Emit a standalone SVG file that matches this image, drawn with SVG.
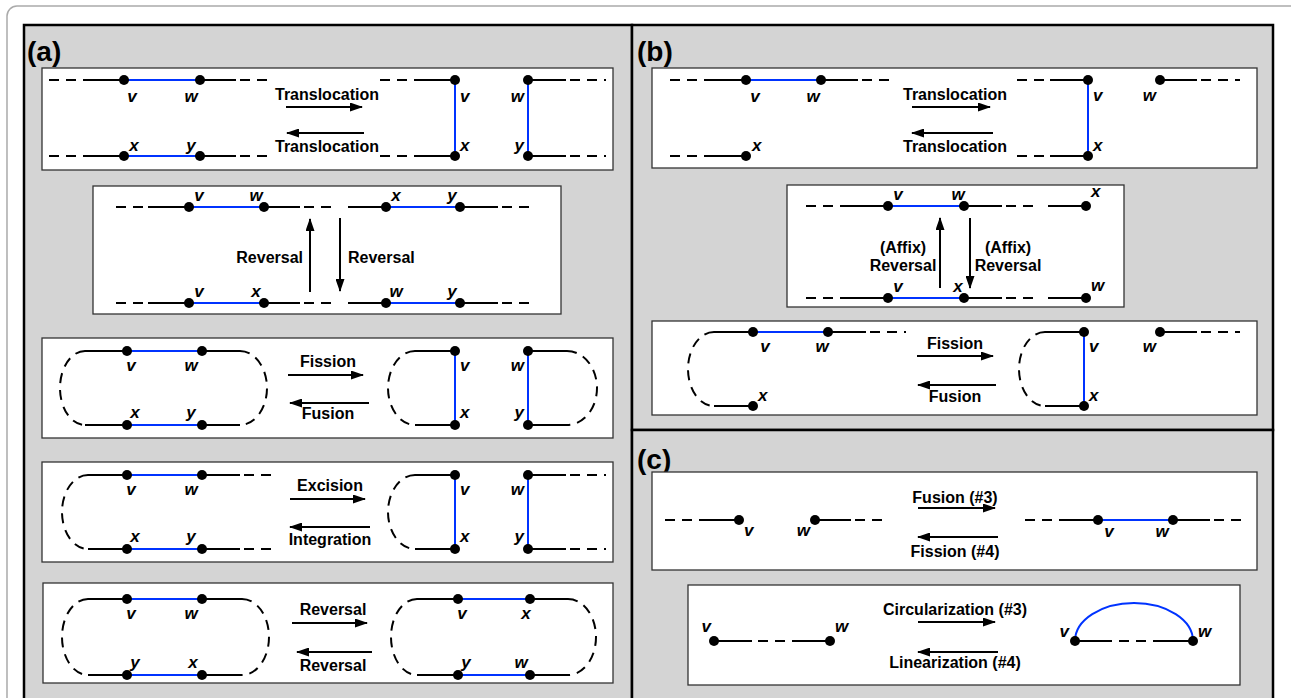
<svg xmlns="http://www.w3.org/2000/svg" width="1291" height="698" viewBox="0 0 1291 698">
<defs>
<marker id="ah" viewBox="0 0 13 9" markerWidth="13" markerHeight="9" markerUnits="userSpaceOnUse" refX="12" refY="4.5" orient="auto"><path d="M0,0 L13,4.5 L0,9 z" fill="#000"/></marker>
<style>
.panel{fill:#d4d4d4;stroke:#000;stroke-width:2.5}
.box{fill:#fff;stroke:#333;stroke-width:1.3}
.s{stroke:#000;stroke-width:2;fill:none}
.d{stroke:#000;stroke-width:2;fill:none;stroke-dasharray:10 7}
.b{stroke:#0033ff;stroke-width:2;fill:none}
.ar{stroke:#000;stroke-width:2;fill:none;marker-end:url(#ah)}
.dot{fill:#000}
.l{font-family:'Liberation Sans',Arial,sans-serif;font-weight:bold;font-style:italic;font-size:17px;text-anchor:middle}
.ls{font-family:'Liberation Sans',Arial,sans-serif;font-weight:bold;font-style:italic;font-size:17px;text-anchor:start}
.le{font-family:'Liberation Sans',Arial,sans-serif;font-weight:bold;font-style:italic;font-size:17px;text-anchor:end}
.op{font-family:'Liberation Sans',Arial,sans-serif;font-weight:bold;font-size:16px;text-anchor:middle}
.ope{font-family:'Liberation Sans',Arial,sans-serif;font-weight:bold;font-size:16px;text-anchor:end}
.ops{font-family:'Liberation Sans',Arial,sans-serif;font-weight:bold;font-size:16px;text-anchor:start}
.pl{font-family:'Liberation Sans',Arial,sans-serif;font-weight:bold;font-size:28px}
</style>
</defs>
<rect x="7" y="6" width="1300" height="720" rx="10" fill="#fff" stroke="#aaa" stroke-width="1.5"/>

<g id="panel-a">
<rect class="panel" x="24" y="25" width="608" height="690"/>
<text class="pl" x="27" y="61">(a)</text>
</g>
<g id="panel-b">
<rect class="panel" x="632" y="25" width="641" height="405"/>
<text class="pl" x="637" y="61">(b)</text>
</g>
<g id="panel-c">
<rect class="panel" x="632" y="430" width="641" height="285"/>
<text class="pl" x="637" y="469">(c)</text>
</g>

<!-- (a) box 1 -->
<g id="a1">
<rect class="box" x="42" y="68" width="571" height="102"/>
<line class="d" x1="49" y1="80" x2="84" y2="80"/><line class="s" x1="84" y1="80" x2="124" y2="80"/><line class="b" x1="124" y1="80" x2="200" y2="80"/><line class="s" x1="200" y1="80" x2="236" y2="80"/><line class="d" x1="240" y1="80" x2="272" y2="80"/>
<line class="d" x1="49" y1="156" x2="84" y2="156"/><line class="s" x1="84" y1="156" x2="124" y2="156"/><line class="b" x1="124" y1="156" x2="200" y2="156"/><line class="s" x1="200" y1="156" x2="236" y2="156"/><line class="d" x1="240" y1="156" x2="272" y2="156"/>
<circle class="dot" cx="124" cy="80" r="5"/><circle class="dot" cx="200" cy="80" r="5"/><circle class="dot" cx="124" cy="156" r="5"/><circle class="dot" cx="200" cy="156" r="5"/>
<text class="l" x="132" y="102">v</text><text class="l" x="191" y="102">w</text><text class="l" x="134" y="151">x</text><text class="l" x="191" y="151">y</text>
<line class="d" x1="380" y1="80" x2="416" y2="80"/><line class="s" x1="416" y1="80" x2="455" y2="80"/><line class="b" x1="455" y1="80" x2="455" y2="156"/>
<line class="d" x1="380" y1="156" x2="416" y2="156"/><line class="s" x1="416" y1="156" x2="455" y2="156"/>
<circle class="dot" cx="455" cy="80" r="5"/><circle class="dot" cx="455" cy="156" r="5"/>
<text class="ls" x="460" y="102">v</text><text class="ls" x="460" y="151">x</text>
<line class="s" x1="528" y1="80" x2="566" y2="80"/><line class="d" x1="570" y1="80" x2="606" y2="80"/><line class="b" x1="528" y1="80" x2="528" y2="156"/>
<line class="s" x1="528" y1="156" x2="566" y2="156"/><line class="d" x1="570" y1="156" x2="606" y2="156"/>
<circle class="dot" cx="528" cy="80" r="5"/><circle class="dot" cx="528" cy="156" r="5"/>
<text class="le" x="524" y="102">w</text><text class="le" x="524" y="151">y</text>
<text class="op" x="327" y="100">Translocation</text><text class="op" x="327" y="152">Translocation</text>
</g>

<!-- (a) box 2 -->
<g id="a2">
<rect class="box" x="93" y="186" width="468" height="128"/>
<line class="d" x1="116" y1="207" x2="148" y2="207"/><line class="s" x1="148" y1="207" x2="189" y2="207"/><line class="b" x1="189" y1="207" x2="264" y2="207"/><line class="s" x1="264" y1="207" x2="300" y2="207"/><line class="d" x1="304" y1="207" x2="338" y2="207"/>
<line class="s" x1="348" y1="207" x2="386" y2="207"/><line class="b" x1="386" y1="207" x2="460" y2="207"/><line class="s" x1="460" y1="207" x2="498" y2="207"/><line class="d" x1="502" y1="207" x2="535" y2="207"/>
<circle class="dot" cx="189" cy="207" r="5"/><circle class="dot" cx="264" cy="207" r="5"/><circle class="dot" cx="386" cy="207" r="5"/><circle class="dot" cx="460" cy="207" r="5"/>
<text class="l" x="199" y="201">v</text><text class="l" x="256" y="201">w</text><text class="l" x="396" y="201">x</text><text class="l" x="452" y="201">y</text>
<line class="d" x1="116" y1="303" x2="148" y2="303"/><line class="s" x1="148" y1="303" x2="189" y2="303"/><line class="b" x1="189" y1="303" x2="264" y2="303"/><line class="s" x1="264" y1="303" x2="300" y2="303"/><line class="d" x1="304" y1="303" x2="338" y2="303"/>
<line class="s" x1="348" y1="303" x2="386" y2="303"/><line class="b" x1="386" y1="303" x2="460" y2="303"/><line class="s" x1="460" y1="303" x2="498" y2="303"/><line class="d" x1="502" y1="303" x2="535" y2="303"/>
<circle class="dot" cx="189" cy="303" r="5"/><circle class="dot" cx="264" cy="303" r="5"/><circle class="dot" cx="386" cy="303" r="5"/><circle class="dot" cx="460" cy="303" r="5"/>
<text class="l" x="199" y="297">v</text><text class="l" x="256" y="297">x</text><text class="l" x="396" y="297">w</text><text class="l" x="452" y="297">y</text>
<text class="ope" x="303" y="263">Reversal</text><text class="ops" x="348" y="263">Reversal</text>
</g>

<!-- (a) box 3 -->
<g id="a3">
<rect class="box" x="42" y="338" width="571" height="100"/>
<path class="d" d="M85,351 A25,37 0 0 0 85,425"/><path class="d" d="M240,351 A27,37 0 0 1 240,425"/>
<line class="s" x1="85" y1="351" x2="127" y2="351"/><line class="b" x1="127" y1="351" x2="202" y2="351"/><line class="s" x1="202" y1="351" x2="240" y2="351"/>
<line class="s" x1="85" y1="425" x2="127" y2="425"/><line class="b" x1="127" y1="425" x2="202" y2="425"/><line class="s" x1="202" y1="425" x2="240" y2="425"/>
<circle class="dot" cx="127" cy="351" r="5"/><circle class="dot" cx="202" cy="351" r="5"/><circle class="dot" cx="127" cy="425" r="5"/><circle class="dot" cx="202" cy="425" r="5"/>
<text class="l" x="131" y="371">v</text><text class="l" x="191" y="371">w</text><text class="l" x="135" y="418">x</text><text class="l" x="191" y="418">y</text>
<path class="d" d="M415,351 A27,37 0 0 0 415,425"/>
<line class="s" x1="415" y1="351" x2="455" y2="351"/><line class="s" x1="415" y1="425" x2="455" y2="425"/><line class="b" x1="455" y1="351" x2="455" y2="425"/>
<circle class="dot" cx="455" cy="351" r="5"/><circle class="dot" cx="455" cy="425" r="5"/>
<text class="ls" x="460" y="371">v</text><text class="ls" x="460" y="418">x</text>
<path class="d" d="M567,351 A30,37 0 0 1 567,425"/>
<line class="s" x1="528" y1="351" x2="567" y2="351"/><line class="s" x1="528" y1="425" x2="567" y2="425"/><line class="b" x1="528" y1="351" x2="528" y2="425"/>
<circle class="dot" cx="528" cy="351" r="5"/><circle class="dot" cx="528" cy="425" r="5"/>
<text class="le" x="524" y="371">w</text><text class="le" x="524" y="418">y</text>
<text class="op" x="328" y="367">Fission</text><text class="op" x="328" y="419">Fusion</text>
</g>

<!-- (a) box 4 -->
<g id="a4">
<rect class="box" x="42" y="462" width="571" height="100"/>
<path class="d" d="M88,475 A26,37 0 0 0 88,549"/>
<line class="s" x1="88" y1="475" x2="127" y2="475"/><line class="b" x1="127" y1="475" x2="202" y2="475"/><line class="s" x1="202" y1="475" x2="240" y2="475"/><line class="d" x1="244" y1="475" x2="278" y2="475"/>
<line class="s" x1="88" y1="549" x2="127" y2="549"/><line class="b" x1="127" y1="549" x2="202" y2="549"/><line class="s" x1="202" y1="549" x2="240" y2="549"/><line class="d" x1="244" y1="549" x2="278" y2="549"/>
<circle class="dot" cx="127" cy="475" r="5"/><circle class="dot" cx="202" cy="475" r="5"/><circle class="dot" cx="127" cy="549" r="5"/><circle class="dot" cx="202" cy="549" r="5"/>
<text class="l" x="131" y="495">v</text><text class="l" x="191" y="495">w</text><text class="l" x="135" y="542">x</text><text class="l" x="191" y="542">y</text>
<path class="d" d="M415,475 A27,37 0 0 0 415,549"/>
<line class="s" x1="415" y1="475" x2="455" y2="475"/><line class="s" x1="415" y1="549" x2="455" y2="549"/><line class="b" x1="455" y1="475" x2="455" y2="549"/>
<circle class="dot" cx="455" cy="475" r="5"/><circle class="dot" cx="455" cy="549" r="5"/>
<text class="ls" x="460" y="495">v</text><text class="ls" x="460" y="542">x</text>
<line class="s" x1="528" y1="475" x2="566" y2="475"/><line class="d" x1="570" y1="475" x2="606" y2="475"/>
<line class="s" x1="528" y1="549" x2="566" y2="549"/><line class="d" x1="570" y1="549" x2="606" y2="549"/><line class="b" x1="528" y1="475" x2="528" y2="549"/>
<circle class="dot" cx="528" cy="475" r="5"/><circle class="dot" cx="528" cy="549" r="5"/>
<text class="le" x="524" y="495">w</text><text class="le" x="524" y="542">y</text>
<text class="op" x="330" y="491">Excision</text><text class="op" x="330" y="545">Integration</text>
</g>

<!-- (a) box 5 -->
<g id="a5">
<rect class="box" x="43" y="583" width="570" height="100"/>
<path class="d" d="M88,599 A26,38 0 0 0 88,675"/><path class="d" d="M242,599 A27,38 0 0 1 242,675"/>
<line class="s" x1="88" y1="599" x2="127" y2="599"/><line class="b" x1="127" y1="599" x2="202" y2="599"/><line class="s" x1="202" y1="599" x2="242" y2="599"/>
<line class="s" x1="88" y1="675" x2="127" y2="675"/><line class="b" x1="127" y1="675" x2="202" y2="675"/><line class="s" x1="202" y1="675" x2="242" y2="675"/>
<circle class="dot" cx="127" cy="599" r="5"/><circle class="dot" cx="202" cy="599" r="5"/><circle class="dot" cx="127" cy="675" r="5"/><circle class="dot" cx="202" cy="675" r="5"/>
<text class="l" x="131" y="619">v</text><text class="l" x="191" y="619">w</text><text class="l" x="135" y="668">y</text><text class="l" x="193" y="668">x</text>
<path class="d" d="M417,599 A26,38 0 0 0 417,675"/><path class="d" d="M568,599 A28,38 0 0 1 568,675"/>
<line class="s" x1="417" y1="599" x2="458" y2="599"/><line class="b" x1="458" y1="599" x2="530" y2="599"/><line class="s" x1="530" y1="599" x2="568" y2="599"/>
<line class="s" x1="417" y1="675" x2="458" y2="675"/><line class="b" x1="458" y1="675" x2="530" y2="675"/><line class="s" x1="530" y1="675" x2="568" y2="675"/>
<circle class="dot" cx="458" cy="599" r="5"/><circle class="dot" cx="530" cy="599" r="5"/><circle class="dot" cx="458" cy="675" r="5"/><circle class="dot" cx="530" cy="675" r="5"/>
<text class="l" x="462" y="619">v</text><text class="l" x="526" y="619">x</text><text class="l" x="466" y="668">y</text><text class="l" x="521" y="668">w</text>
<text class="op" x="333" y="615">Reversal</text><text class="op" x="333" y="671">Reversal</text>
</g>

<!-- (b) box 1 -->
<g id="b1">
<rect class="box" x="652" y="68" width="605" height="100"/>
<line class="d" x1="670" y1="80" x2="706" y2="80"/><line class="s" x1="706" y1="80" x2="746" y2="80"/><line class="b" x1="746" y1="80" x2="821" y2="80"/><line class="s" x1="821" y1="80" x2="858" y2="80"/><line class="d" x1="862" y1="80" x2="895" y2="80"/>
<circle class="dot" cx="746" cy="80" r="5"/><circle class="dot" cx="821" cy="80" r="5"/>
<text class="l" x="755" y="102">v</text><text class="l" x="813" y="102">w</text>
<line class="d" x1="670" y1="156" x2="706" y2="156"/><line class="s" x1="706" y1="156" x2="746" y2="156"/>
<circle class="dot" cx="746" cy="156" r="5"/>
<text class="ls" x="752" y="151">x</text>
<line class="d" x1="1017" y1="80" x2="1050" y2="80"/><line class="s" x1="1050" y1="80" x2="1088" y2="80"/><line class="b" x1="1088" y1="80" x2="1088" y2="156"/>
<line class="d" x1="1017" y1="156" x2="1050" y2="156"/><line class="s" x1="1050" y1="156" x2="1088" y2="156"/>
<circle class="dot" cx="1088" cy="80" r="5"/><circle class="dot" cx="1088" cy="156" r="5"/>
<text class="ls" x="1093" y="101">v</text><text class="ls" x="1093" y="151">x</text>
<line class="s" x1="1160" y1="80" x2="1197" y2="80"/><line class="d" x1="1201" y1="80" x2="1240" y2="80"/>
<circle class="dot" cx="1160" cy="80" r="5"/>
<text class="le" x="1156" y="101">w</text>
<text class="op" x="955" y="100">Translocation</text><text class="op" x="955" y="152">Translocation</text>
</g>

<!-- (b) box 2 -->
<g id="b2">
<rect class="box" x="787" y="185" width="337" height="122"/>
<line class="d" x1="806" y1="206" x2="842" y2="206"/><line class="s" x1="842" y1="206" x2="888" y2="206"/><line class="b" x1="888" y1="206" x2="964" y2="206"/><line class="s" x1="964" y1="206" x2="1002" y2="206"/><line class="d" x1="1006" y1="206" x2="1040" y2="206"/><line class="s" x1="1048" y1="206" x2="1086" y2="206"/>
<circle class="dot" cx="888" cy="206" r="5"/><circle class="dot" cx="964" cy="206" r="5"/><circle class="dot" cx="1086" cy="206" r="5"/>
<text class="l" x="898" y="200">v</text><text class="l" x="958" y="200">w</text><text class="ls" x="1091" y="197">x</text>
<line class="d" x1="806" y1="298" x2="842" y2="298"/><line class="s" x1="842" y1="298" x2="888" y2="298"/><line class="b" x1="888" y1="298" x2="964" y2="298"/><line class="s" x1="964" y1="298" x2="1002" y2="298"/><line class="d" x1="1006" y1="298" x2="1040" y2="298"/><line class="s" x1="1048" y1="298" x2="1086" y2="298"/>
<circle class="dot" cx="888" cy="298" r="5"/><circle class="dot" cx="964" cy="298" r="5"/><circle class="dot" cx="1086" cy="298" r="5"/>
<text class="l" x="898" y="292">v</text><text class="l" x="958" y="292">x</text><text class="ls" x="1091" y="291">w</text>
<text class="op" x="903" y="253">(Affix)</text><text class="op" x="903" y="271">Reversal</text>
<text class="op" x="1008" y="253">(Affix)</text><text class="op" x="1008" y="271">Reversal</text>
</g>

<!-- (b) box 3 -->
<g id="b3">
<rect class="box" x="652" y="321" width="605" height="94"/>
<path class="d" d="M714,332 A26,37 0 0 0 714,406"/>
<line class="s" x1="714" y1="332" x2="753" y2="332"/><line class="b" x1="753" y1="332" x2="828" y2="332"/><line class="s" x1="828" y1="332" x2="866" y2="332"/><line class="d" x1="870" y1="332" x2="906" y2="332"/>
<line class="s" x1="714" y1="406" x2="753" y2="406"/>
<circle class="dot" cx="753" cy="332" r="5"/><circle class="dot" cx="828" cy="332" r="5"/><circle class="dot" cx="753" cy="406" r="5"/>
<text class="l" x="765" y="352">v</text><text class="l" x="822" y="352">w</text><text class="ls" x="758" y="401">x</text>
<path class="d" d="M1045,332 A26,37 0 0 0 1045,406"/>
<line class="s" x1="1045" y1="332" x2="1084" y2="332"/><line class="s" x1="1045" y1="406" x2="1084" y2="406"/><line class="b" x1="1084" y1="332" x2="1084" y2="406"/>
<circle class="dot" cx="1084" cy="332" r="5"/><circle class="dot" cx="1084" cy="406" r="5"/>
<text class="ls" x="1089" y="352">v</text><text class="ls" x="1089" y="401">x</text>
<line class="s" x1="1160" y1="332" x2="1197" y2="332"/><line class="d" x1="1201" y1="332" x2="1240" y2="332"/>
<circle class="dot" cx="1160" cy="332" r="5"/>
<text class="le" x="1156" y="352">w</text>
<text class="op" x="955" y="349">Fission</text><text class="op" x="955" y="402">Fusion</text>
</g>

<!-- (c) box 1 -->
<g id="c1">
<rect class="box" x="652" y="472" width="605" height="98"/>
<line class="d" x1="665" y1="520" x2="700" y2="520"/><line class="s" x1="700" y1="520" x2="739" y2="520"/>
<circle class="dot" cx="739" cy="520" r="5"/>
<text class="ls" x="744" y="536">v</text>
<line class="s" x1="815" y1="520" x2="851" y2="520"/><line class="d" x1="855" y1="520" x2="888" y2="520"/>
<circle class="dot" cx="815" cy="520" r="5"/>
<text class="le" x="810" y="536">w</text>
<line class="d" x1="1025" y1="520" x2="1060" y2="520"/><line class="s" x1="1060" y1="520" x2="1098" y2="520"/><line class="b" x1="1098" y1="520" x2="1173" y2="520"/><line class="s" x1="1173" y1="520" x2="1210" y2="520"/><line class="d" x1="1214" y1="520" x2="1248" y2="520"/>
<circle class="dot" cx="1098" cy="520" r="5"/><circle class="dot" cx="1173" cy="520" r="5"/>
<text class="l" x="1109" y="537">v</text><text class="l" x="1162" y="537">w</text>
<text class="op" x="955" y="503">Fusion (#3)</text><text class="op" x="955" y="557">Fission (#4)</text>
</g>

<!-- (c) box 2 -->
<g id="c2">
<rect class="box" x="688" y="585" width="552" height="100"/>
<line class="s" x1="714" y1="641" x2="752" y2="641"/><line class="d" x1="758" y1="641" x2="785" y2="641"/><line class="s" x1="792" y1="641" x2="830" y2="641"/>
<circle class="dot" cx="714" cy="641" r="5"/><circle class="dot" cx="830" cy="641" r="5"/>
<text class="le" x="711" y="632">v</text><text class="ls" x="835" y="632">w</text>
<path class="b" d="M1075,641 A59,38 0 0 1 1193,641"/>
<line class="s" x1="1075" y1="641" x2="1112" y2="641"/><line class="d" x1="1119" y1="641" x2="1146" y2="641"/><line class="s" x1="1153" y1="641" x2="1193" y2="641"/>
<circle class="dot" cx="1075" cy="641" r="5"/><circle class="dot" cx="1193" cy="641" r="5"/>
<text class="le" x="1069" y="637">v</text><text class="ls" x="1198" y="637">w</text>
<text class="op" x="955" y="615">Circularization (#3)</text><text class="op" x="955" y="668">Linearization (#4)</text>
</g>

<g id="connectors">
<line class="ar" x1="286" y1="107" x2="362" y2="107"/>
<line class="ar" x1="364" y1="133" x2="287" y2="133"/>
<line class="ar" x1="310" y1="292" x2="310" y2="219"/>
<line class="ar" x1="340" y1="218" x2="340" y2="291"/>
<line class="ar" x1="288" y1="375" x2="363" y2="375"/>
<line class="ar" x1="369" y1="403" x2="290" y2="403"/>
<line class="ar" x1="290" y1="499" x2="365" y2="499"/>
<line class="ar" x1="370" y1="527" x2="290" y2="527"/>
<line class="ar" x1="292" y1="623" x2="367" y2="623"/>
<line class="ar" x1="372" y1="652" x2="297" y2="652"/>
<line class="ar" x1="912" y1="107" x2="990" y2="107"/>
<line class="ar" x1="993" y1="133" x2="912" y2="133"/>
<line class="ar" x1="940" y1="288" x2="940" y2="218"/>
<line class="ar" x1="970" y1="218" x2="970" y2="288"/>
<line class="ar" x1="917" y1="356" x2="993" y2="356"/>
<line class="ar" x1="996" y1="385" x2="918" y2="385"/>
<line class="ar" x1="918" y1="508" x2="995" y2="508"/>
<line class="ar" x1="998" y1="537" x2="918" y2="537"/>
<line class="ar" x1="918" y1="622" x2="995" y2="622"/>
<line class="ar" x1="998" y1="652" x2="918" y2="652"/>
</g>
</svg>
